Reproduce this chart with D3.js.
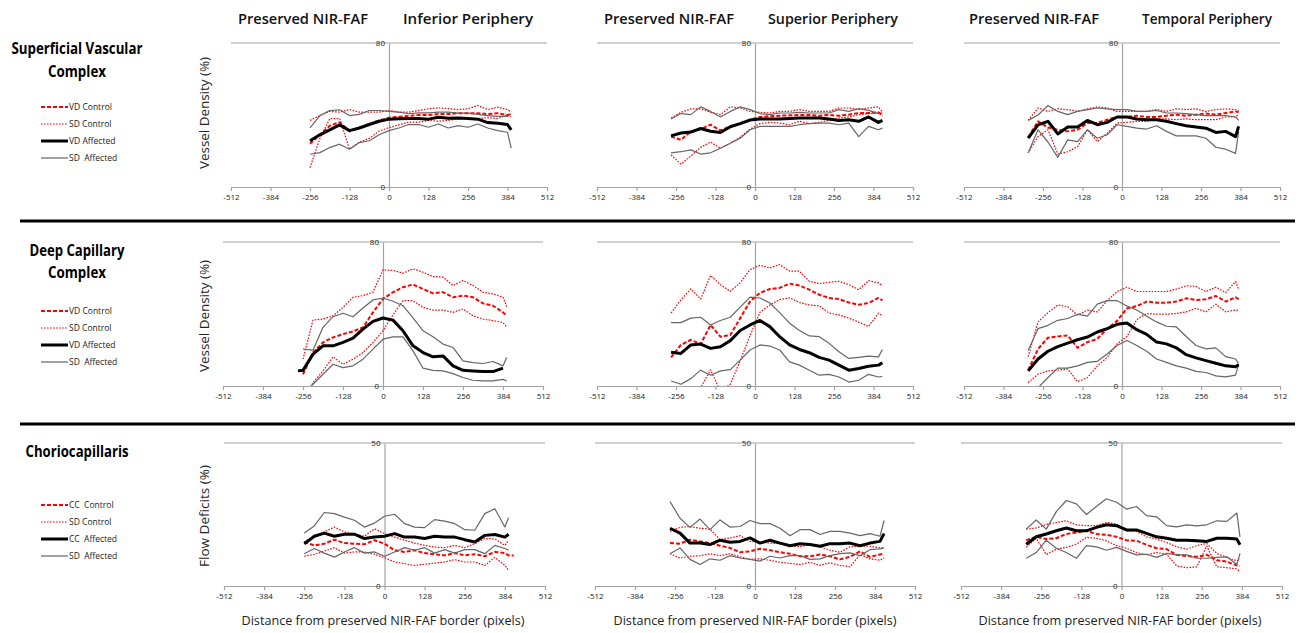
<!DOCTYPE html>
<html>
<head>
<meta charset="utf-8">
<script src="https://cdn.jsdelivr.net/npm/d3@7"></script>
<style>
  body { margin: 0; background: #fff; }
  svg { display: block; }
  text { font-family: 'Open Sans', 'Noto Sans', sans-serif; }
</style>
</head>
<body>
<svg id="fig" width="1300" height="633"></svg>
<script>
// sample positions (pixels from the preserved NIR-FAF border)
const xsInf1 = [-256,-224,-192,-160,-128,-96,-64,-32,0,32,64,96,128,160,192,224,256,288,320,352,384,396]
const xsInf2 = [-272,-256,-224,-192,-160,-128,-96,-64,-32,0,32,64,96,128,160,192,224,256,288,320,352,384,396]
const xsInf3 = [-256,-224,-192,-160,-128,-96,-64,-32,0,32,64,96,128,160,192,224,256,288,320,352,384,396,412]
const xsSup = [-272,-240,-208,-176,-144,-112,-80,-48,-16,16,48,80,112,144,176,208,240,272,304,336,368,400,413]
const xsTmp = [-304,-272,-240,-208,-176,-144,-112,-80,-48,-16,16,48,80,112,144,176,208,240,272,304,336,368,378]

// Superficial vascular complex - vessel density (%)
const svcInf_vdC = [24,29,34,36,31,33,35,37,38.5,39,39.5,40,40,40.5,40.5,41,41,41,40.5,41,40,40.5]
const svcInf_sdCHi = [37,39.7,42,41.6,43,41.6,41.6,41.6,42.5,41.6,41.6,42.5,43.5,44,43.5,43,43.5,45.3,43,44.4,43,41.6]
const svcInf_sdCLo = [10.7,27,38,38,21,25,27,31,33,34.5,36,36,37,36.5,37,38,38,38,38.5,38,40,39]
const svcInf_vdA = [25.7,29,31.7,34.5,31.3,32.8,34.7,36.5,37.7,37.9,38,38,37.7,38.8,38.2,38.4,38,37.7,35.8,35.4,34.7,31.7]
const svcInf_sdAHi = [32.8,39.7,42.5,42.9,39.7,40.3,42.5,42.5,42,41.6,40.7,41.2,41.2,41.6,41.6,41,41,40.3,39.7,39.2,39.2,40.7]
const svcInf_sdALo = [18.2,19.1,21.9,23.8,21,24.7,25.7,29,31.3,32.8,34.7,34.7,33.2,35,32.8,34.1,33.2,35,32.8,31.3,30.4,21.6]

const svcSup_vdC = [28,26.2,30.9,32.2,34.6,31.4,33.7,35.5,37.4,38.9,39.3,39.6,39.8,40,40,39.6,40,39.6,40.2,41.1,41.1,41.5,40.2]
const svcSup_sdCHi = [38.3,41.5,43.4,43.4,41.5,40.2,44.5,43.9,42,41.5,41.1,42,42,43,42,42,42,43.9,43.9,43,43.9,44.5,41.5]
const svcSup_sdCLo = [17.8,12.7,17.2,22,25,21.5,24.3,27.7,32.2,35.2,35.9,35.5,34.6,36.5,35.2,35.9,37,38.3,38.9,40.2,40.8,41.1,39.6]
const svcSup_vdA = [28.4,30,30.5,32.5,31,30.3,33.5,35.2,37.2,37.8,37.8,37.8,38,38.3,38.3,38.3,37.8,37,37.4,36.5,38.9,35.9,37]
const svcSup_sdAHi = [37.8,40.8,40.2,44.5,42,38.9,42,44.5,43,40.8,40.2,41.1,41.1,41.5,41.1,41.1,41.1,43,42,43.5,42.6,40.8,41.1]
const svcSup_sdALo = [19,19.6,20.6,18.3,19,21.5,24.3,27.1,31.8,33.7,33.7,33.7,33.7,34.6,35.2,35.5,35.5,34.6,35.5,28,33.7,31.8,32.7]

const svcTmp_vdC = [27.7,36.5,33,31.8,30.9,31.8,35.5,35.5,37.4,38.9,38.9,39.6,38.9,38.9,39.6,40.2,39.6,40.2,40.8,40.2,41.1,42,41.5]
const svcTmp_sdCHi = [37,43.9,42,43.4,43,42,43.4,44.5,43.9,42,42,42,42,43,42,43.4,43,43.4,42,43,43.4,43,42.6]
const svcTmp_sdCLo = [19,28,31.8,18.3,19.6,22.4,31.8,25.2,29.9,35.5,35.9,36.5,36.5,37.8,37.8,37.4,37.8,37.4,37.4,37.4,38.9,38.9,40.2]
const svcTmp_vdA = [27.1,34.5,36.5,29.5,33.3,33.3,37,34.6,35.9,38.9,38.9,37.8,37.4,37.4,36.5,35.2,34,33.3,32.7,30.3,30.9,28,33.7]
const svcTmp_sdAHi = [37,40,45.3,42,40.2,42,43,43.9,43.4,43,43,42,42,42.5,41.1,41.1,40.8,40.2,39.6,39.6,39.6,38.9,37]
const svcTmp_sdALo = [19,31.8,25,16.5,26.2,25.2,31.8,27.1,29,34.6,33.7,32.7,32.2,34,30.9,28.4,28.4,28.4,27.1,22.1,21,18.7,30.9]

// Deep capillary complex - vessel density (%)
const dccInf_vdC = [null,6.5,18.6,24.2,27,28.8,30.3,32.6,40.9,48.4,52.1,54.9,56.4,53.9,51.5,52.1,49.3,50.2,49.3,45.9,44.6,40.9,39]
const dccInf_sdCHi = [null,14.9,36.6,37.2,39,43.7,49.3,50.2,52.1,64.5,64.2,62.7,65.1,63.2,60.8,60.5,55.8,58.6,55.8,52.1,51.2,49.3,44.1]
const dccInf_sdCLo = [null,-8,1.9,8.4,16.2,12.1,14.9,18.6,24.2,30.7,39.6,47.4,47.4,43.7,42.2,42.2,40.9,42.8,39,37.2,36.3,35.3,32.6]
const dccInf_vdA = [8.4,8.7,17.7,22.3,22.3,24.2,26.6,31.6,35.9,37.8,36.6,30.7,22.3,18.6,16.2,16.7,11.2,8.7,8.4,8,8,9.9,null]
const dccInf_sdAHi = [null,20.5,19.9,32.6,38.5,40.4,38.5,43.3,47.8,48.9,47.1,44.6,37.8,30.7,27.3,23.3,21.4,14,13,12.5,13.6,11.2,15.8]
const dccInf_sdALo = [null,-5,1,6.5,12.1,10.2,11.2,14.9,20.5,26,27.3,27.3,19.5,9.9,8.7,8.4,6.9,4.7,3.2,2.8,2.8,3.7,2.8]

const dccSup_vdC = [15.9,22.8,25.6,23.3,33.9,27.4,28.3,37.7,47,51.7,53.9,54.5,56.9,55.8,53.5,50.7,48.9,48.3,46.4,45.1,46.1,48.9,47.6]
const dccSup_sdCHi = [40.5,47.9,53.9,48.3,61.4,56.3,52.6,57.3,64.7,67,65.6,67.5,63.8,63.8,58.2,56.9,57.6,58.2,56.3,53.5,58.5,57.3,55.8]
const dccSup_sdCLo = [-10,-8,-3,-1,9,-3,1,14,28,41,45,48,49,46.4,45,44.5,40.5,39.5,37.7,35.5,33,40.5,39]
const dccSup_vdA = [18.7,18.1,22.8,23.3,20.9,21.8,25.2,30.8,33.9,36.4,33,27.4,22.8,20.3,18.5,15.9,14.4,11.6,8.8,9.7,11,11.6,12.9]
const dccSup_sdAHi = [35.2,35.2,37.7,38.2,33.9,36.4,38.2,43.8,49.4,48.9,46.1,40.8,34.9,30.8,27.8,27.4,23.7,19,15.3,15.9,16.6,16.2,20.3]
const dccSup_sdALo = [2.8,1,4.1,8.8,6,8.4,9.1,14.4,20,22.8,22.2,20,13.4,11.6,8.8,6,6.5,5,2.2,3.2,6.5,5,5.4]

const dccTmp_vdC = [8.8,20.6,26.8,27.5,28.1,21.2,24.4,26.2,31.9,36.2,43.1,44.4,46.9,46.3,46.3,46.9,48.7,47.8,48.2,50,46.9,49.3,48.2]
const dccTmp_sdCHi = [16.3,35.6,40.7,45,44,39.4,42.2,41.2,47.4,52.5,54.9,52.5,52.5,52.5,52.5,53.8,55.7,55.3,52.5,54.9,51.9,58,53.8]
const dccTmp_sdCLo = [1.9,6.6,8.4,8.8,9.4,2.4,4.7,11.2,15.9,23.4,27.5,36.9,40.3,39.9,39.9,40.3,41.2,43.1,41.2,45.5,41.2,42.2,42.2]
const dccTmp_vdA = [8.4,15,19.3,21.9,23.8,25.7,27.2,30,31.9,34.3,35,31.3,28.7,24.4,23.4,21.2,17.4,15.6,14.1,12.6,11.2,10.7,11.8]
const dccTmp_sdAHi = [19.7,31.9,33.7,36.5,37.5,39.9,38.8,45.5,47.4,47.4,44.4,42.2,38.8,35.6,33.2,32.8,27.5,22.5,20.6,21.2,16.3,15,12.6]
const dccTmp_sdALo = [-6,-1,4.7,9.9,9.9,11.2,13.1,13.7,17.8,22.5,25.3,22.5,19.3,15,13.1,11.2,9.9,8.1,7.5,5.6,5.1,6,12.2]

// Choriocapillaris - flow deficits (%)
const ccInf_vdC = [15.4,14.2,14.8,16.2,15,14.8,14.6,16,14.8,12.5,11.9,12.5,11.5,11.1,10.7,11.5,10.7,11.1,10.4,11.9,11.5,10.7,10.7]
const ccInf_sdCHi = [15.4,17.4,18.9,20.6,18.9,18.1,17.4,20,18.3,17.1,16,15,14.2,13.6,13.4,14.2,13.4,14.8,16.6,16.5,14.2,16,null]
const ccInf_sdCLo = [10.4,11.1,12.2,13.4,11.5,11.9,11.9,11.1,9.9,8.4,7.8,7.2,7.6,8,8.4,9.2,8.4,8.4,7.2,10,7.2,5.5,null]
const ccInf_vdA = [14.8,17.4,18.5,17.4,18.1,18.1,16.6,17.1,17.4,18.3,17.1,17.1,16.6,17.4,17.1,17.1,16.2,15.4,17.7,18,17.1,18.1,null]
const ccInf_sdAHi = [18.5,21,25.7,25.3,24.1,23,20.6,22,24.4,25.1,21.8,20.6,20.4,23.2,22.7,21.8,19.7,19.5,25.3,27,20.6,23.9,null]
const ccInf_sdALo = [11.3,13.1,11.5,10.1,11.9,13.4,11.5,11.9,10.4,11.9,13.4,12.5,13.4,11.5,12.7,11.5,12.7,12.7,11.3,14.2,13.1,12.5,null]

const ccSup_vdC = [15,14.8,16.2,15.6,15,14.1,13.3,11.8,12.1,13,12.5,11.8,11.3,10.4,10.4,11,10.4,9.3,10.2,12.1,10.2,11,11.3]
const ccSup_sdCHi = [19.1,20.5,20.8,20.2,19.9,16.2,16.8,17.6,15.6,15.3,15,14.8,14.1,13.7,14.5,13.7,12.5,11.8,13.7,13.9,13.9,13.3,13.3]
const ccSup_sdCLo = [11.3,9.8,10.4,10.6,11.3,10.6,11.3,10.2,9.3,9.5,9,8.3,7.9,7.5,8.3,7.2,8.1,7.2,6.7,11,9.5,9,9.8]
const ccSup_vdA = [20.2,18.5,15,15,14.5,16,15.3,15.6,16.8,15,16,15,14.1,14.8,14.5,13.9,14.8,14.8,15,14.1,15,15.6,18.3]
const ccSup_sdAHi = [29.5,23.7,20.5,23.4,19.7,23.1,20.6,20.8,22.9,21.8,21.8,20.2,17.6,19.7,19.7,18,19.1,19.1,18.5,17.6,18.3,17.4,22.9]
const ccSup_sdALo = [11.3,13.3,9.3,7.5,9.5,9,10.6,9.8,9.3,8.7,10.4,9.8,10.6,10.6,9.3,9.5,10.6,11.3,11.6,10.6,12.7,13,13.3]

const ccTmp_vdC = [16,17.2,16.4,16.7,18.2,18.7,19.3,18.2,17.9,17.2,16,15.8,14.4,13.2,12.9,10.9,10.5,10.2,10.9,9,8.5,7.2,7]
const ccTmp_sdCHi = [19.9,20.3,21.5,22.2,22.8,21.4,21.1,21.1,22.2,21.7,19.3,19.1,17.2,16.4,15.2,13.7,12.9,14.1,14.9,11.4,10,8.8,9.4]
const ccTmp_sdCLo = [13.5,16.7,11,12.9,13.5,14.6,17,16.7,15.8,14.1,13.2,11.7,10.9,11.7,11.1,7,6.4,6.7,14,6.7,6.4,6,5]
const ccTmp_vdA = [14.6,17.2,18.2,19.3,20.3,19.3,19.3,20.5,21.4,21.1,19.6,19.6,18.4,17.2,16.7,16,16,15.8,15.6,16.7,16.7,16.4,14.4]
const ccTmp_sdAHi = [19.9,23.1,19.9,26,29.9,28.7,25,27.8,30.5,29.3,26.9,27.8,24.6,24.2,21.1,20.7,21.4,21,21.4,22.8,22.6,25.5,17.2]
const ccTmp_sdALo = [9.7,11.7,16,13.2,11.7,9.7,14.1,13.7,12.5,13.5,12.1,10.9,11.1,10,11.4,10.9,10.9,9.7,9.7,10,10.2,7.5,11.4]

const rowTitles = [['Superficial Vascular', 'Complex'], ['Deep Capillary', 'Complex'], ['Choriocapillaris']]
const yTitles = ['Vessel Density (%)', 'Vessel Density (%)', 'Flow Deficits (%)']
const yMax = [80, 80, 50]
const regions = ['Inferior Periphery', 'Superior Periphery', 'Temporal Periphery']
const legendLabels = [
  ['VD Control', 'SD Control', 'VD Affected', 'SD  Affected'],
  ['VD Control', 'SD Control', 'VD Affected', 'SD  Affected'],
  ['CC  Control', 'SD Control', 'CC  Affected', 'SD  Affected']
]
const xTicks = [-512, -384, -256, -128, 0, 128, 256, 384, 512]

const panels = [
  {r:0, c:0, xs:xsInf1, vdC:svcInf_vdC, sdCHi:svcInf_sdCHi, sdCLo:svcInf_sdCLo, vdA:svcInf_vdA, sdAHi:svcInf_sdAHi, sdALo:svcInf_sdALo},
  {r:0, c:1, xs:xsSup, vdC:svcSup_vdC, sdCHi:svcSup_sdCHi, sdCLo:svcSup_sdCLo, vdA:svcSup_vdA, sdAHi:svcSup_sdAHi, sdALo:svcSup_sdALo},
  {r:0, c:2, xs:xsTmp, vdC:svcTmp_vdC, sdCHi:svcTmp_sdCHi, sdCLo:svcTmp_sdCLo, vdA:svcTmp_vdA, sdAHi:svcTmp_sdAHi, sdALo:svcTmp_sdALo},
  {r:1, c:0, xs:xsInf2, vdC:dccInf_vdC, sdCHi:dccInf_sdCHi, sdCLo:dccInf_sdCLo, vdA:dccInf_vdA, sdAHi:dccInf_sdAHi, sdALo:dccInf_sdALo},
  {r:1, c:1, xs:xsSup, vdC:dccSup_vdC, sdCHi:dccSup_sdCHi, sdCLo:dccSup_sdCLo, vdA:dccSup_vdA, sdAHi:dccSup_sdAHi, sdALo:dccSup_sdALo},
  {r:1, c:2, xs:xsTmp, vdC:dccTmp_vdC, sdCHi:dccTmp_sdCHi, sdCLo:dccTmp_sdCLo, vdA:dccTmp_vdA, sdAHi:dccTmp_sdAHi, sdALo:dccTmp_sdALo},
  {r:2, c:0, xs:xsInf3, vdC:ccInf_vdC, sdCHi:ccInf_sdCHi, sdCLo:ccInf_sdCLo, vdA:ccInf_vdA, sdAHi:ccInf_sdAHi, sdALo:ccInf_sdALo},
  {r:2, c:1, xs:xsSup, vdC:ccSup_vdC, sdCHi:ccSup_sdCHi, sdCLo:ccSup_sdCLo, vdA:ccSup_vdA, sdAHi:ccSup_sdAHi, sdALo:ccSup_sdALo},
  {r:2, c:2, xs:xsTmp, vdC:ccTmp_vdC, sdCHi:ccTmp_sdCHi, sdCLo:ccTmp_sdCLo, vdA:ccTmp_vdA, sdAHi:ccTmp_sdAHi, sdALo:ccTmp_sdALo}
]

// layout (pixel frames of each plot area)
const frameX = [
  [[231,547],[597,913],[964,1280]],
  [[223,543],[597,913],[964,1280]],
  [[224,545],[595,915],[961,1282]]
]
const frameY = [[43,187],[242,386],[443,586]]
const styles = {
  vdC: {stroke:'#ff0000', w:2, dash:'4,2'},
  sdC: {stroke:'#ff0000', w:1.2, dash:'1.6,1.4'},
  vdA: {stroke:'#000000', w:3, dash:null},
  sdA: {stroke:'#666666', w:1.2, dash:null}
}
const axisColor = '#a3a3a3'

const svg = d3.select('#fig')
const defs = svg.append('defs')

panels.forEach((p, i) => {
  const [xa, xb] = frameX[p.r][p.c]
  const [yt, yb] = frameY[p.r]
  const x = d3.scaleLinear().domain([-512, 512]).range([xa, xb])
  const y = d3.scaleLinear().domain([0, yMax[p.r]]).range([yb, yt])
  const g = svg.append('g')

  // top gridline
  g.append('line')
    .attr('x1', xa).attr('x2', xb).attr('y1', yt).attr('y2', yt)
    .attr('stroke', axisColor).attr('stroke-width', 1.2)

  const xAxis = g.append('g')
    .attr('transform', `translate(0,${yb})`)
    .call(d3.axisBottom(x).tickValues(xTicks).tickFormat(d => String(d))
      .tickSize(4).tickSizeOuter(0).tickPadding(3))
  xAxis.selectAll('path, line').attr('stroke', axisColor).attr('stroke-width', 1.2)
  xAxis.selectAll('text').attr('font-size', 8).attr('fill', '#222')
    .attr('font-family', "'Open Sans', sans-serif")

  const yAxis = g.append('g')
    .attr('transform', `translate(${x(0)},0)`)
    .call(d3.axisLeft(y).tickValues([0, yMax[p.r]]).tickFormat(d => String(d))
      .tickSize(0).tickPadding(4))
  yAxis.select('path').attr('stroke', axisColor).attr('stroke-width', 1.2)
  yAxis.selectAll('text').attr('font-size', 8).attr('fill', '#222')
    .attr('font-family', "'Open Sans', sans-serif")

  const clipId = 'clip' + i
  defs.append('clipPath').attr('id', clipId)
    .append('rect').attr('x', xa).attr('y', yt - 10).attr('width', xb - xa).attr('height', yb - yt + 10)

  const lines = g.append('g').attr('clip-path', `url(#${clipId})`)
  const line = d3.line()
    .defined(d => d[1] != null)
    .x(d => x(d[0]))
    .y(d => y(d[1]))

  const draw = (vals, st) => {
    lines.append('path')
      .datum(p.xs.map((xv, k) => [xv, vals[k]]))
      .attr('d', line)
      .attr('fill', 'none')
      .attr('stroke', st.stroke)
      .attr('stroke-width', st.w)
      .attr('stroke-dasharray', st.dash)
      .attr('stroke-linejoin', 'round')
  }
  draw(p.vdC, styles.vdC)
  draw(p.sdCHi, styles.sdC)
  draw(p.sdCLo, styles.sdC)
  draw(p.sdAHi, styles.sdA)
  draw(p.sdALo, styles.sdA)
  draw(p.vdA, styles.vdA)
})

// column headers
const headerCenters = [[303, 468], [669, 833], [1034, 1207]]
headerCenters.forEach((hc, c) => {
  svg.append('text').attr('x', hc[0]).attr('y', 24).attr('text-anchor', 'middle')
    .attr('font-size', 15).attr('font-weight', 600).attr('fill', '#111')
    .attr('textLength', 130).attr('lengthAdjust', 'spacingAndGlyphs')
    .text('Preserved NIR-FAF')
  svg.append('text').attr('x', hc[1]).attr('y', 24).attr('text-anchor', 'middle')
    .attr('font-size', 15).attr('font-weight', 600).attr('fill', '#111')
    .attr('textLength', 130).attr('lengthAdjust', 'spacingAndGlyphs')
    .text(regions[c])
})

// row separators
;[221, 424].forEach(yy => {
  svg.append('line').attr('x1', 20).attr('x2', 1295).attr('y1', yy).attr('y2', yy)
    .attr('stroke', '#000').attr('stroke-width', 3)
})

// row titles
const rowTitleY = [[54, 77], [256, 278], [457]]
const rowTitleW = [[131, 58], [95, 58], [103]]
rowTitles.forEach((lines, r) => {
  lines.forEach((t, k) => {
    svg.append('text').attr('x', 77).attr('y', rowTitleY[r][k]).attr('text-anchor', 'middle')
      .attr('font-size', 16).attr('font-weight', 'bold').attr('fill', '#000')
      .attr('font-family', "'DejaVu Sans Condensed', 'Liberation Sans Narrow', sans-serif")
      .attr('textLength', rowTitleW[r][k]).attr('lengthAdjust', 'spacingAndGlyphs')
      .text(t)
  })
})

// legends
const legendTop = [107, 311, 505]
const legendStyles = [styles.vdC, styles.sdC, styles.vdA, styles.sdA]
legendLabels.forEach((labs, r) => {
  labs.forEach((lab, k) => {
    const yy = legendTop[r] + k * 17
    const st = legendStyles[k]
    svg.append('line').attr('x1', 41).attr('x2', 68).attr('y1', yy).attr('y2', yy)
      .attr('stroke', st.stroke).attr('stroke-width', st.w).attr('stroke-dasharray', st.dash)
    svg.append('text').attr('x', 69).attr('y', yy + 3).attr('font-size', 8.5).attr('fill', '#222')
      .attr('xml:space', 'preserve').style('white-space', 'pre')
      .text(lab)
  })
})

// y-axis titles
const yTitleCY = [113, 316, 516]
const yTitleW = [112, 112, 102]
yTitles.forEach((t, r) => {
  svg.append('text')
    .attr('transform', `translate(209,${yTitleCY[r]}) rotate(-90)`)
    .attr('text-anchor', 'middle').attr('font-size', 13).attr('fill', '#222')
    .attr('textLength', yTitleW[r]).attr('lengthAdjust', 'spacingAndGlyphs')
    .text(t)
})

// x-axis titles
const xTitleCX = [383, 755, 1120]
xTitleCX.forEach(cx => {
  svg.append('text').attr('x', cx).attr('y', 625).attr('text-anchor', 'middle')
    .attr('font-size', 13).attr('fill', '#222')
    .attr('textLength', 283).attr('lengthAdjust', 'spacingAndGlyphs')
    .text('Distance from preserved NIR-FAF border (pixels)')
})
</script>
</body>
</html>
